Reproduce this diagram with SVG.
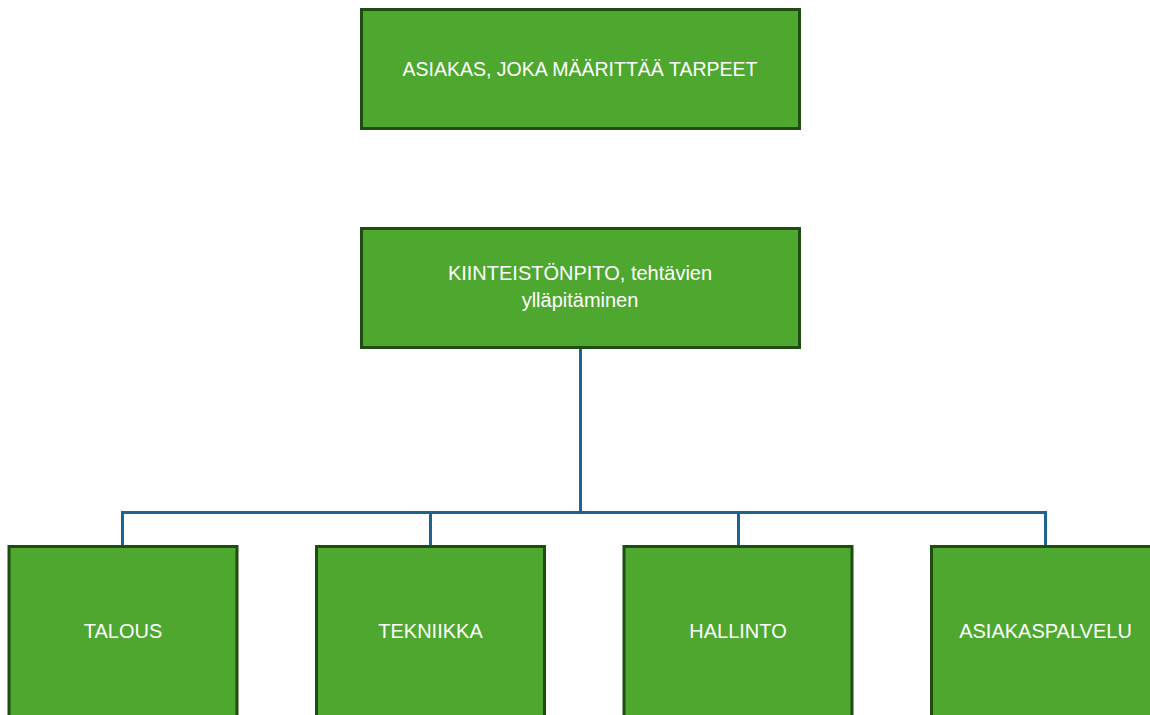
<svg xmlns="http://www.w3.org/2000/svg" width="1150" height="715" viewBox="0 0 1150 715">
<style>
.box{fill:#4ea72e;stroke:#1e4d0f;stroke-width:3}
.t{font-family:"Liberation Sans",Arial,sans-serif;font-size:20px;fill:#ffffff;text-anchor:middle}
.c{fill:none;stroke:#1f6391;stroke-width:3}
</style>
<rect width="1150" height="715" fill="#ffffff"/>
<g id="connectors">
<path class="c" d="M580.5 348V512.5M122.5 545V512.5H1045.5V545M430.5 512.5V545M738.5 512.5V545"/>
</g>
<g id="node-asiakas">
<rect class="box" x="361.5" y="9.5" width="438" height="119"/>
<text class="t" x="580" y="76" textLength="355" lengthAdjust="spacingAndGlyphs">ASIAKAS, JOKA MÄÄRITTÄÄ TARPEET</text>
</g>
<g id="node-kiinteistonpito">
<rect class="box" x="361.5" y="228.5" width="438" height="119"/>
<text class="t" x="580" y="280">KIINTEISTÖNPITO, tehtävien</text>
<text class="t" x="580" y="307">ylläpitäminen</text>
</g>
<g id="node-talous">
<rect class="box" x="9" y="546.5" width="228" height="180"/>
<text class="t" x="123" y="638">TALOUS</text>
</g>
<g id="node-tekniikka">
<rect class="box" x="316.5" y="546.5" width="228" height="180"/>
<text class="t" x="430.5" y="638">TEKNIIKKA</text>
</g>
<g id="node-hallinto">
<rect class="box" x="624" y="546.5" width="228" height="180"/>
<text class="t" x="738" y="638">HALLINTO</text>
</g>
<g id="node-asiakaspalvelu">
<rect class="box" x="931.5" y="546.5" width="228" height="180"/>
<text class="t" x="1045.5" y="638">ASIAKASPALVELU</text>
</g>
</svg>
